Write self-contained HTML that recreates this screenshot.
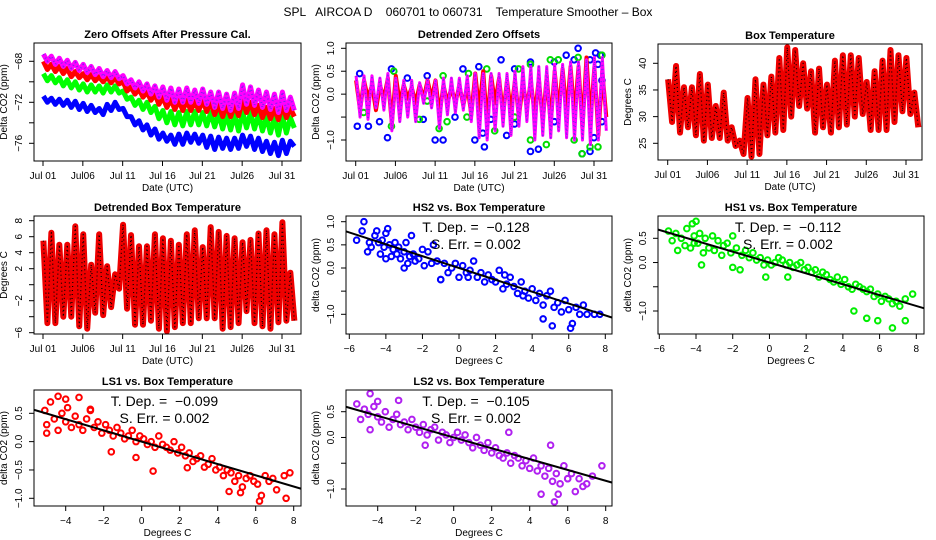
<!DOCTYPE html>
<html><head><meta charset="utf-8"><style>
body{margin:0;background:#fff;width:936px;height:540px;overflow:hidden}
svg{display:block;font-family:"Liberation Sans",sans-serif}
</style></head><body>
<svg id="s" width="936" height="540" viewBox="0 0 936 540">
<text x="468" y="16" text-anchor="middle" font-size="12" style="white-space:pre">SPL   AIRCOA D    060701 to 060731    Temperature Smoother – Box</text>
</svg>
<script>
// ---- Panel 1: Zero offsets (daily high / low) ----
const p1MagHi=[-67.3,-67.5,-67.7,-67.9,-68.1,-68.3,-68.5,-68.7,-68.9,-69.0,-69.4,-69.8,-70.0,-70.2,-70.4,-70.5,-70.6,-70.7,-70.6,-70.8,-70.7,-71.0,-71.0,-71.2,-71.1,-70.3,-70.5,-70.8,-71.0,-71.2,-71.0,-71.5];
const p1MagLo=[-68.0,-68.3,-68.5,-68.7,-68.9,-69.1,-69.3,-69.5,-69.6,-69.7,-70.2,-70.6,-70.9,-71.2,-71.5,-71.8,-72.0,-72.0,-72.0,-72.1,-72.2,-72.5,-72.6,-72.8,-72.6,-72.2,-72.3,-72.5,-72.7,-73.0,-72.8,-72.8];
const p1RedHi=[-68.0,-68.3,-68.5,-68.7,-69.0,-69.2,-69.3,-69.5,-69.5,-69.6,-70.0,-70.5,-70.7,-71.0,-71.2,-71.5,-71.7,-71.8,-71.8,-71.9,-71.8,-72.0,-72.2,-72.3,-72.3,-71.8,-72.0,-72.3,-72.5,-72.6,-72.3,-72.6];
const p1RedLo=[-68.8,-69.0,-69.2,-69.5,-69.6,-69.8,-69.9,-70.0,-70.1,-70.2,-70.9,-71.2,-71.5,-71.8,-72.2,-72.5,-72.7,-72.8,-72.8,-72.8,-72.9,-73.2,-73.4,-73.4,-73.3,-73.0,-73.2,-73.5,-73.6,-73.7,-73.5,-73.4];
const p1GrnHi=[-69.2,-69.4,-69.6,-69.8,-70.0,-70.2,-70.3,-70.4,-70.3,-70.4,-70.9,-71.5,-71.8,-72.0,-72.4,-72.8,-72.9,-73.0,-72.9,-72.9,-73.0,-73.0,-73.1,-73.2,-73.2,-72.9,-73.0,-73.2,-73.4,-73.5,-73.3,-73.5];
const p1GrnLo=[-69.9,-70.1,-70.4,-70.6,-70.8,-71.0,-71.0,-71.1,-71.0,-71.1,-71.7,-72.3,-72.7,-73.0,-73.6,-74.0,-74.2,-74.3,-74.2,-74.2,-74.3,-74.4,-74.6,-74.7,-74.8,-74.5,-74.6,-74.8,-75.0,-75.2,-75.0,-74.5];
const p1BluHi=[-71.4,-71.6,-71.7,-71.8,-71.9,-72.1,-72.3,-72.6,-72.2,-72.0,-72.6,-73.4,-73.8,-74.2,-74.6,-75.0,-75.2,-75.1,-75.0,-75.1,-75.2,-75.3,-75.4,-75.5,-75.5,-75.2,-75.3,-75.5,-75.8,-75.9,-75.7,-75.8];
const p1BluLo=[-72.0,-72.2,-72.3,-72.5,-72.7,-72.9,-73.0,-73.2,-72.8,-72.7,-73.4,-74.2,-74.7,-75.2,-75.6,-75.8,-76.1,-76.1,-75.9,-76.0,-76.4,-76.6,-76.5,-76.6,-76.5,-76.3,-76.6,-76.8,-77.0,-77.2,-77.0,-76.3];
// ---- Panel 2: Detrended zero offsets ----
const p2MagHi=[0.4,0.4,0.4,0.35,0.45,0.35,0.3,0.3,0.25,0.3,0.3,0.35,0.35,0.35,0.4,0.45,0.45,0.45,0.45,0.45,0.5,0.6,0.6,0.6,0.6,0.65,0.65,0.7,0.7,0.75,0.8,0.8];
const p2MagLo=[-0.5,-0.55,-0.3,-0.35,-0.8,-0.6,-0.5,-0.6,-0.2,-0.3,-0.75,-0.45,-0.4,-0.35,-0.6,-0.95,-1.0,-0.8,-0.7,-0.9,-0.7,-0.6,-1.0,-0.9,-0.95,-0.8,-0.95,-1.0,-1.0,-1.1,-1.0,-0.8];
const p2RedHi=[0.3,0.3,0.2,0.2,0.35,0.4,0.2,0.15,0.2,0.3,0.3,0.2,0.15,0.2,0.2,0.45,0.5,0.4,0.35,0.3,0.3,0.25,0.3,0.35,0.4,0.5,0.55,0.6,0.6,0.8,0.6,0.5];
const p2RedLo=[-0.35,-0.1,-0.35,-0.1,-0.65,-0.2,-0.1,-0.2,-0.1,-0.1,-0.45,-0.2,-0.2,-0.25,-0.45,-0.35,-0.65,-0.2,-0.45,-0.4,-0.5,-0.3,-0.5,-0.6,-0.65,-0.4,-0.45,-0.5,-0.75,-0.6,-0.9,-0.5];
const p2BluDay=[0.2,1.6,3.0,4.0,8.5,10,11,12.5,15,16,16.2,17,19,20,22,23,25,28.5,29.5,30,31,0.5,4.5,6.5,9,13.5,15.5,18.3,20,22,25,26.5,27.5,28,29.5,30.2,30.5,30.8,31];
const p2BluVal=[-0.7,-0.7,-0.6,-0.95,-0.55,-1.0,-1.0,-0.5,-1.0,-0.85,-1.15,-0.55,-0.9,-0.65,-1.25,-1.2,-0.6,-1.3,-1.25,-0.95,-0.6,0.45,0.55,0.35,0.4,0.55,0.6,0.75,0.55,0.7,0.7,0.85,0.75,1.0,0.75,0.9,0.65,0.85,0.3];
const p2GrnDay=[1,4.5,8,9,10.5,11.5,14,17.5,20,22,24,27.5,28.5,29.5,30.5,4.8,11,14.2,16.5,20.5,22,24.5,25.5,28,31];
const p2GrnVal=[-0.4,-0.7,-0.55,-0.15,-0.75,-0.6,-0.5,-0.8,-0.5,-1.0,-1.1,-1.0,-1.3,-1.15,-1.15,0.5,0.4,0.45,0.55,0.55,0.65,0.75,0.75,0.8,0.85];
// ---- Panel 3: Box temperature ----
const p3Hi=[37,39.5,35.5,35.5,38,36,32,34.5,28,25.5,33.5,37,36,37.5,41,43,42.5,40,38.5,39,36,40.5,41.5,41.5,41,36.5,38.5,40.5,42.5,41.5,41,34.5];
const p3Lo=[29,27,28,26.5,25.5,26,26,25.5,24.5,23,22.5,23,26.5,27,27.5,30,32,31.5,27,28,27,28,28.5,30,30.5,27.5,27.5,27.5,29,31,30.5,28];
// ---- Panel 4: Detrended box temperature ----
const p4Hi=[5.5,6.5,5,5,7.3,6.3,2.5,6.3,2.3,1.3,7.5,6.2,4.8,4.8,6.3,5.8,5.5,5,6.3,6.8,4.7,7.2,6.6,6.1,5.8,5.3,5.6,6.4,6.8,6.3,7.8,1.5];
const p4Lo=[-4.8,-4.8,-4,-4,-5.2,-5.5,-3.5,-3.8,-2.8,-0.5,-3,-5,-5,-4.5,-5.5,-5.8,-5.3,-4.8,-4.8,-4.2,-4.2,-4.2,-5.5,-5.3,-4.8,-3.3,-4.8,-5.2,-5.5,-4.7,-4.5,-4.5];
// ---- Scatter panels ----
const hs2X=[-5.6,-5.3,-5.2,-5.0,-4.9,-4.8,-4.6,-4.5,-4.4,-4.3,-4.2,-4.1,-4.0,-3.9,-3.8,-3.7,-3.6,-3.5,-3.4,-3.3,-3.2,-3.0,-2.9,-2.8,-2.7,-2.6,-2.5,-2.4,-2.2,-2.0,-1.9,-1.7,-1.5,-1.4,-1.2,-1.0,-0.8,-0.6,-0.4,-0.2,0.0,0.2,0.4,0.6,0.8,1.0,1.2,1.4,1.6,1.8,2.0,2.2,2.4,2.6,2.8,3.0,3.2,3.4,3.6,3.8,4.0,4.2,4.4,4.6,4.8,5.0,5.2,5.4,5.6,5.8,6.0,6.2,6.4,6.6,6.8,7.0,7.4,7.7,4.6,5.1,6.1,-4.0,-3.0,-1.0,0.5,2.5,3.5];
const hs2Y=[0.6,0.8,1.0,0.35,0.55,0.45,0.7,0.8,0.55,0.3,0.6,0.45,0.75,0.85,0.5,0.25,0.4,0.55,0.3,0.45,0.2,0.35,0.55,0.1,0.25,0.7,0.3,0.15,0.2,0.4,0.05,0.35,0.1,0.5,0.15,-0.25,0.1,-0.1,0.0,0.1,-0.2,0.05,-0.1,-0.05,0.15,-0.2,-0.1,-0.3,-0.15,-0.25,-0.3,-0.05,-0.45,-0.35,-0.2,-0.4,-0.55,-0.3,-0.5,-0.65,-0.45,-0.7,-0.55,-0.8,-0.6,-0.5,-0.85,-0.75,-0.95,-0.7,-0.9,-1.2,-0.85,-1.0,-0.8,-1.0,-1.0,-1.0,-1.1,-1.25,-1.3,0.2,0.0,-0.25,-0.2,-0.15,-0.6];
const hs1X=[-5.5,-5.3,-5.1,-5.0,-4.8,-4.6,-4.5,-4.3,-4.2,-4.1,-4.0,-3.9,-3.8,-3.6,-3.5,-3.3,-3.1,-3.0,-2.8,-2.6,-2.5,-2.3,-2.1,-2.0,-1.8,-1.5,-1.3,-1.1,-0.9,-0.7,-0.5,-0.3,-0.1,0.1,0.3,0.5,0.7,0.9,1.1,1.3,1.5,1.7,1.9,2.1,2.3,2.5,2.7,2.9,3.1,3.3,3.5,3.7,3.9,4.1,4.3,4.5,4.7,4.9,5.1,5.3,5.5,5.7,5.9,6.1,6.3,6.5,6.7,6.9,7.1,7.4,7.8,4.6,5.3,5.9,6.7,7.4,-3.7,-2.0,-1.6,-0.2,1.0,-4.1];
const hs1Y=[0.65,0.45,0.6,0.25,0.5,0.35,0.7,0.3,0.8,0.55,0.85,0.4,0.6,0.2,0.5,0.3,0.55,0.25,0.45,0.15,0.35,0.4,0.2,0.55,0.3,0.15,0.25,0.1,0.2,0.05,0.1,-0.05,0.05,-0.05,0.0,0.1,0.05,-0.05,0.0,-0.1,-0.05,0.0,-0.15,-0.1,-0.2,-0.15,-0.3,-0.2,-0.25,-0.35,-0.4,-0.3,-0.45,-0.35,-0.5,-0.55,-0.45,-0.5,-0.55,-0.6,-0.55,-0.7,-0.65,-0.8,-0.7,-0.75,-0.85,-0.8,-0.9,-0.75,-0.65,-1.0,-1.15,-1.2,-1.35,-1.2,-0.05,-0.1,-0.15,-0.3,-0.3,0.4];
const ls1X=[-5.1,-5.0,-4.8,-4.6,-4.4,-4.2,-4.0,-3.9,-3.7,-3.5,-3.3,-3.1,-2.9,-2.7,-2.5,-2.3,-2.1,-1.9,-1.7,-1.5,-1.3,-1.1,-0.9,-0.7,-0.5,-0.3,-0.1,0.1,0.3,0.5,0.7,0.9,1.1,1.3,1.5,1.7,1.9,2.1,2.3,2.5,2.7,2.9,3.1,3.3,3.5,3.7,3.9,4.1,4.3,4.5,4.7,4.9,5.1,5.3,5.5,5.7,5.9,6.1,6.3,6.5,6.7,6.9,7.1,7.5,7.8,-4.4,-3.3,-2.7,-1.6,-0.3,0.6,2.4,4.6,5.2,6.2,7.6,-5.0,-4.0];
const ls1Y=[0.55,0.3,0.7,0.4,0.2,0.5,0.35,0.6,0.25,0.45,0.3,0.2,0.4,0.55,0.25,0.35,0.15,0.3,0.2,0.1,0.25,0.15,0.05,0.1,0.2,0.0,0.1,0.05,-0.05,0.0,-0.1,0.1,-0.05,-0.1,-0.15,0.0,-0.2,-0.1,-0.25,-0.2,-0.35,-0.3,-0.25,-0.45,-0.4,-0.3,-0.5,-0.45,-0.6,-0.5,-0.55,-0.7,-0.6,-0.8,-0.65,-0.6,-0.7,-0.75,-0.95,-0.6,-0.7,-0.65,-0.85,-0.6,-0.55,0.8,0.78,0.57,-0.18,-0.28,-0.52,-0.46,-0.88,-0.9,-1.05,-1.0,0.15,0.75];
const ls2X=[-5.1,-4.9,-4.7,-4.5,-4.4,-4.2,-4.0,-3.8,-3.6,-3.4,-3.2,-3.0,-2.8,-2.6,-2.4,-2.2,-2.0,-1.8,-1.6,-1.4,-1.2,-1.0,-0.8,-0.6,-0.4,-0.2,0.0,0.2,0.4,0.6,0.8,1.0,1.2,1.4,1.6,1.8,2.0,2.2,2.4,2.6,2.8,3.0,3.2,3.4,3.6,3.8,4.0,4.2,4.4,4.6,4.8,5.0,5.2,5.4,5.6,5.8,6.0,6.2,6.4,6.6,6.8,7.0,7.3,7.8,-4.4,-2.9,-1.5,2.9,5.1,5.3,5.5,6.0,4.6,-4.0];
const ls2Y=[0.65,0.35,0.55,0.45,0.15,0.6,0.4,0.3,0.5,0.2,0.35,0.45,0.25,0.3,0.15,0.35,0.2,0.1,0.25,0.05,0.15,0.2,-0.05,0.1,0.05,-0.1,0.0,0.1,-0.05,0.05,-0.1,-0.2,0.0,-0.15,-0.25,-0.1,-0.3,-0.2,-0.35,-0.4,-0.3,-0.5,-0.35,-0.4,-0.55,-0.45,-0.6,-0.4,-0.65,-0.55,-0.75,-0.6,-0.85,-0.7,-0.9,-0.55,-0.8,-0.7,-1.05,-0.8,-0.95,-0.9,-0.75,-0.55,0.85,0.72,-0.15,0.1,-0.15,-1.25,-1.1,-0.8,-1.1,0.7];
const slopes=[-0.128,-0.112,-0.099,-0.105];
const slopeLabels=["−0.128","−0.112","−0.099","−0.105"];
const errLabels=["0.002","0.002","0.002","0.002"];
const dateTicks=[0,5,10,15,20,25,30];
const dateLabels=["Jul 01","Jul06","Jul 11","Jul 16","Jul 21","Jul26","Jul 31"];
const tempTicks=[-6,-4,-2,0,2,4,6,8];

const svg=document.getElementById('s');
const NS='http://www.w3.org/2000/svg';
function mk(tag,attrs,parent){const e=document.createElementNS(NS,tag);for(const k in attrs)e.setAttribute(k,attrs[k]);(parent||svg).appendChild(e);return e;}
function txt(s,attrs,parent){const e=mk('text',attrs,parent);e.textContent=s;return e;}
function lin(a,b,c,d){return v=>c+(v-a)*(d-c)/(b-a);}

function panel(o){
  const g=mk('g',{});
  
  
  const cl='c'+o.name;
  const cp=mk('clipPath',{id:cl},g);mk('rect',{x:o.x0,y:o.y0,width:o.x1-o.x0,height:o.y1-o.y0},cp);
  const plot=mk('g',{'clip-path':'url(#'+cl+')'},g);
  o.draw(plot);
  const box=mk('rect',{x:o.x0,y:o.y0,width:o.x1-o.x0,height:o.y1-o.y0,fill:'none',stroke:'#000','stroke-width':1},g);
  
  
  const t=txt(o.title,{x:(o.x0+o.x1)/2,y:o.y0-5,'text-anchor':'middle','font-size':11,'font-weight':'bold'},g);
  
  
  o.xt.forEach((v,i)=>{const x=o.xs(v);mk('line',{x1:x,x2:x,y1:o.y1,y2:o.y1+5,stroke:'#000'},g);
    const l=txt(o.xl[i],{x:x,y:o.y1+18,'text-anchor':'middle','font-size':10},g);
    
    });
  o.yt.forEach((v,i)=>{const y=o.ys(v);mk('line',{x1:o.x0,x2:o.x0-5,y1:y,y2:y,stroke:'#000'},g);
    if(o.yl[i]){const l=txt(o.yl[i],{x:o.x0-12,y:y,'text-anchor':'middle','font-size':10,transform:`rotate(-90 ${o.x0-12} ${y})`},g);
    
    }});
  const xt=txt(o.xtitle,{x:(o.x0+o.x1)/2,y:o.y1+30,'text-anchor':'middle','font-size':10},g);
  
  
  const yx=o.x0-27,yy=(o.y0+o.y1)/2;
  const yt=txt(o.ytitle,{x:yx,y:yy,'text-anchor':'middle','font-size':10,transform:`rotate(-90 ${yx} ${yy})`},g);
  
  
  return g;
}
function zig(g,hi,lo,xs,ys,color,w,name,overlay,ow){
  const pts=[];const n=Math.min(hi.length,lo.length);
  for(let d=0;d<n;d++){pts.push(xs(d+0.05)+','+ys(hi[d]));pts.push(xs(d+0.55)+','+ys(lo[d]));}
  const p=mk('polyline',{points:pts.join(' '),fill:'none',stroke:color,'stroke-width':w,'stroke-linejoin':'round'},g);
  
  
  if(overlay){const q=mk('polyline',{points:pts.join(' '),fill:'none',stroke:overlay,'stroke-width':ow||1.2,'stroke-dasharray':'1 3','stroke-linejoin':'round'},g);
    
    }
}
function pts(g,X,Y,xs,ys,color,name){
  const n=Math.min(X.length,Y.length);
  for(let i=0;i<n;i++){const c=mk('circle',{cx:xs(X[i]),cy:ys(Y[i]),r:2.8,fill:'none',stroke:color,'stroke-width':2},g);
    
    }
}

// Panel 1
{const xs=lin(0,30,43,282),ys=lin(-68,-76,61.3,143.3);
panel({name:'zero-offsets-panel',x0:34,x1:301,y0:43,y1:161,xs,ys,xt:dateTicks,xl:dateLabels,yt:[-68,-70,-72,-74,-76],yl:['−68','','−72','','−76'],
 title:'Zero Offsets After Pressure Cal.',xtitle:'Date (UTC)',ytitle:'Delta CO2 (ppm)',
 draw:g=>{zig(g,p1BluHi,p1BluLo,xs,ys,'#0000ff',5,'series-hs2');zig(g,p1GrnHi,p1GrnLo,xs,ys,'#00ff00',5,'series-hs1');
  zig(g,p1RedHi,p1RedLo,xs,ys,'#ff0000',5,'series-ls1');zig(g,p1MagHi,p1MagLo,xs,ys,'#ff00ff',5,'series-ls2','#8020f0',2);}});}
// Panel 2
{const xs=lin(0,30,355.7,594),ys=lin(1,-1,48.3,140);
panel({name:'detrended-offsets-panel',x0:346,x1:612,y0:43,y1:161,xs,ys,xt:dateTicks,xl:dateLabels,yt:[1,0.5,0,-0.5,-1],yl:['1.0','0.5','0.0','','−1.0'],
 title:'Detrended Zero Offsets',xtitle:'Date (UTC)',ytitle:'Delta CO2 (ppm)',
 draw:g=>{pts(g,p2BluDay,p2BluVal,xs,ys,'#0000ff','point-hs2');pts(g,p2GrnDay,p2GrnVal,xs,ys,'#00dd00','point-hs1');
  zig(g,p2RedHi,p2RedLo,xs,ys,'#ff0000',4,'series-ls1');zig(g,p2MagHi,p2MagLo,xs,ys,'#ff00ff',3,'series-ls2','#8020f0',1.5);}});}
// Panel 3
{const xs=lin(0,30,667.7,906),ys=lin(40,25,63.3,143.3);
panel({name:'box-temperature-panel',x0:658,x1:922,y0:44,y1:160,xs,ys,xt:dateTicks,xl:dateLabels,yt:[25,30,35,40],yl:['25','30','35','40'],
 title:'Box Temperature',xtitle:'Date (UTC)',ytitle:'Degrees C',
 draw:g=>{zig(g,p3Hi,p3Lo,xs,ys,'#ee0000',6,'series-box-temp','#000',1.2);}});}
// Panel 4
{const xs=lin(0,30,43,282),ys=lin(8,-6,220.7,332.7);
panel({name:'detrended-box-temp-panel',x0:34,x1:301,y0:216,y1:334,xs,ys,xt:dateTicks,xl:dateLabels,yt:tempTicks.slice().reverse(),yl:['8','6','4','2','','−2','','−6'],
 title:'Detrended Box Temperature',xtitle:'Date (UTC)',ytitle:'Degrees C',
 draw:g=>{zig(g,p4Hi,p4Lo,xs,ys,'#ee0000',6,'series-detrended-temp','#000',1.2);}});}
// Scatter panels
function scat(o,X,Y,color,k){
  const g=panel(Object.assign(o,{xt:[-6,-4,-2,0,2,4,6,8].filter(v=>o.xs(v)>=o.x0-1),xtitle:'Degrees C',ytitle:'delta CO2 (ppm)',
   draw:g=>{pts(g,X,Y,o.xs,o.ys,color,'data-point');
     const x0=-8,x1=10;const l=mk('line',{x1:o.xs(x0),y1:o.ys(slopes[k]*x0),x2:o.xs(x1),y2:o.ys(slopes[k]*x1),stroke:'#000','stroke-width':2},g);
     
     }}));
  const cx=(o.x0+o.x1)/2-3;
  const a=txt('T. Dep. =  '+slopeLabels[k],{x:cx,y:o.y0+16,'text-anchor':'middle','font-size':14,style:'white-space:pre'},g);
  
  
  const b=txt('S. Err. = '+errLabels[k],{x:cx,y:o.y0+33,'text-anchor':'middle','font-size':14},g);
  
  
}
function xl(xs,x0){return [-6,-4,-2,0,2,4,6,8].filter(v=>xs(v)>=x0-1).map(v=>v<0?'−'+(-v):''+v);}
{const xs=lin(-6,8,349.3,605.3),ys=lin(1,-1,221.7,314.3);
scat({name:'hs2-scatter-panel',x0:346,x1:612,y0:216,y1:334,xs,ys,xl:xl(xs,346),yt:[1,0.5,0,-0.5,-1],yl:['1.0','0.5','0.0','','−1.0'],title:'HS2 vs. Box Temperature'},hs2X,hs2Y,'#0000ff',0);}
{const xs=lin(-6,8,659.3,916.3),ys=lin(0.5,-1,238.3,311);
scat({name:'hs1-scatter-panel',x0:658,x1:924,y0:216,y1:334,xs,ys,xl:xl(xs,658),yt:[0.5,0,-0.5,-1],yl:['0.5','0.0','','−1.0'],title:'HS1 vs. Box Temperature'},hs1X,hs1Y,'#00ee00',1);}
{const xs=lin(-4,8,65.7,293.7),ys=lin(0.5,-1,413.3,498.3);
scat({name:'ls1-scatter-panel',x0:34,x1:301,y0:390,y1:506,xs,ys,xl:xl(xs,34),yt:[0.5,0,-0.5,-1],yl:['0.5','0.0','−0.5','−1.0'],title:'LS1 vs. Box Temperature'},ls1X,ls1Y,'#ff0000',2);}
{const xs=lin(-4,8,377.7,605.7),ys=lin(0.5,-1,411.7,489);
scat({name:'ls2-scatter-panel',x0:346,x1:612,y0:390,y1:506,xs,ys,xl:xl(xs,346),yt:[0.5,0,-0.5,-1],yl:['0.5','0.0','','−1.0'],title:'LS2 vs. Box Temperature'},ls2X,ls2Y,'#b020f0',3);}
</script>
</body></html>
